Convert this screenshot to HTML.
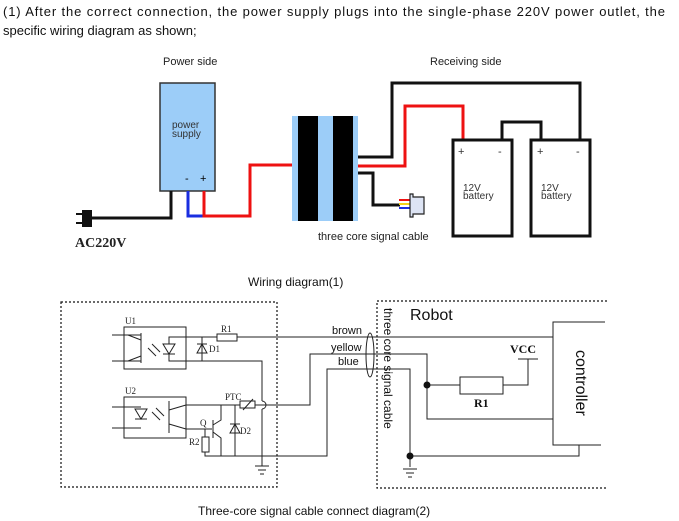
<!DOCTYPE html>
<html><head><meta charset="utf-8"><style>
html,body{margin:0;padding:0;background:#fff;width:679px;height:521px;overflow:hidden}
svg{display:block}
text{font-family:"Liberation Sans",Arial,sans-serif}
.s{font-family:"Liberation Serif",serif}
</style></head><body>
<svg width="679" height="521" viewBox="0 0 679 521" xmlns="http://www.w3.org/2000/svg">
<text x="3" y="16" font-size="13" fill="#111" textLength="662" lengthAdjust="spacing">(1) After the correct connection, the power supply plugs into the single-phase 220V power outlet, the</text>
<text x="3" y="35" font-size="13" fill="#111">specific wiring diagram as shown;</text>

<!-- wiring diagram 1 -->
<text x="163" y="65" font-size="11" fill="#222">Power side</text>
<text x="430" y="65" font-size="11" fill="#222">Receiving side</text>
<rect x="160" y="83" width="55" height="108" fill="#9ccdf8" stroke="#333" stroke-width="1.5"/>
<text x="172" y="128" font-size="10" fill="#333">power</text>
<text x="172" y="137" font-size="10" fill="#333">supply</text>
<text x="185" y="182" font-size="11" fill="#000">-</text>
<text x="200" y="182" font-size="11" fill="#000">+</text>
<polyline points="171,191 171,218 90,218" fill="none" stroke="#111" stroke-width="3"/>
<rect x="82" y="210" width="10" height="17" fill="#111"/>
<line x1="76" y1="214" x2="82" y2="214" stroke="#111" stroke-width="2"/>
<line x1="76" y1="223" x2="82" y2="223" stroke="#111" stroke-width="2"/>
<text x="75" y="247" font-size="14" font-weight="bold" class="s" fill="#222">AC220V</text>
<polyline points="188,191 188,216 204,216" fill="none" stroke="#1a2ee0" stroke-width="3"/>
<polyline points="204,191 204,216 250,216 250,165 292,165" fill="none" stroke="#ee1111" stroke-width="3"/>
<rect x="292" y="116" width="66" height="105" fill="#9ccdf8"/>
<rect x="298" y="116" width="20" height="105" fill="#000"/>
<rect x="333" y="116" width="20" height="105" fill="#000"/>
<text x="318" y="240" font-size="11" fill="#222">three core signal cable</text>
<polyline points="358,157 392,157 392,83 580,83 580,140" fill="none" stroke="#111" stroke-width="3"/>
<polyline points="358,166 405,166 405,106 463,106 463,140" fill="none" stroke="#ee1111" stroke-width="3"/>
<polyline points="358,173 373,173 373,205 400,205" fill="none" stroke="#111" stroke-width="3"/>
<line x1="399" y1="200" x2="411" y2="200" stroke="#e11" stroke-width="2"/>
<line x1="399" y1="204" x2="411" y2="204" stroke="#f2d21a" stroke-width="2"/>
<line x1="399" y1="208" x2="411" y2="208" stroke="#1a2ee0" stroke-width="2"/>
<path d="M410,194 h3 v3 h11 v17 h-11 v3 h-3 z" fill="#dde4f4" stroke="#222" stroke-width="1.2"/>
<rect x="453" y="140" width="59" height="96" fill="#fff" stroke="#111" stroke-width="3"/>
<rect x="531" y="140" width="59" height="96" fill="#fff" stroke="#111" stroke-width="3"/>
<polyline points="502,140 502,122 541,122 541,140" fill="none" stroke="#111" stroke-width="3"/>
<text x="458" y="155" font-size="11" fill="#333">+</text><text x="498" y="155" font-size="11" fill="#333">-</text>
<text x="537" y="155" font-size="11" fill="#333">+</text><text x="576" y="155" font-size="11" fill="#333">-</text>
<text x="463" y="191" font-size="10" fill="#333">12V</text><text x="463" y="199" font-size="10" fill="#333">battery</text>
<text x="541" y="191" font-size="10" fill="#333">12V</text><text x="541" y="199" font-size="10" fill="#333">battery</text>
<text x="248" y="286" font-size="12" fill="#111">Wiring diagram(1)</text>

<!-- diagram 2 -->
<g fill="none" stroke="#111" stroke-width="1.2" stroke-dasharray="2,2">
<rect x="61" y="302" width="216" height="185"/>
<path d="M607,301 H377 V488 H607"/>
</g>
<g fill="none" stroke="#222" stroke-width="1">
<rect x="124" y="327" width="62" height="42"/>
<rect x="124" y="397" width="62" height="41"/>
<line x1="112" y1="335" x2="141" y2="335"/><line x1="112" y1="361" x2="141" y2="361"/>
<line x1="141" y1="333" x2="141" y2="363"/><line x1="141" y1="340" x2="128" y2="335"/><line x1="141" y1="356" x2="128" y2="361"/>
<path d="M163,344 h12 l-6,10 z"/><line x1="163" y1="354" x2="175" y2="354"/>
<line x1="152" y1="344" x2="160" y2="352"/><line x1="148" y1="348" x2="156" y2="356"/>
<polyline points="169,344 169,337 386,337"/>
<polyline points="169,354 169,361 262,361 262,401"/>
<path d="M262,409 V466"/>
<path d="M262,401 a4,4 0 0 1 0,8"/>
<line x1="202" y1="337" x2="202" y2="361"/>
<path d="M197,353 h10 l-5,-9 z"/><line x1="197" y1="344" x2="207" y2="344"/>
<rect x="217" y="334" width="20" height="7" fill="#fff"/>
<line x1="112" y1="407" x2="141" y2="407"/><line x1="112" y1="428" x2="141" y2="428"/>
<path d="M135,409 h12 l-6,10 z"/><line x1="135" y1="419" x2="147" y2="419"/>
<line x1="152" y1="412" x2="160" y2="420"/><line x1="156" y1="408" x2="164" y2="416"/>
<line x1="169" y1="401" x2="169" y2="433"/><line x1="169" y1="410" x2="186" y2="405"/><line x1="169" y1="424" x2="186" y2="429"/>
<polyline points="186,405 240,405"/><polyline points="255,405 310,405 310,354 386,354"/>
<rect x="240" y="401" width="15" height="7" fill="#fff"/><line x1="243" y1="410" x2="253" y2="399"/>
<polyline points="186,429 212,429"/>
<line x1="213" y1="420" x2="213" y2="438"/>
<polyline points="213,425 221,420 221,405"/><polyline points="213,432 221,438 221,456"/>
<line x1="235" y1="405" x2="235" y2="456"/>
<path d="M230,433 h10 l-5,-9 z"/><line x1="230" y1="424" x2="240" y2="424"/>
<line x1="205" y1="429" x2="205" y2="437"/>
<rect x="202" y="437" width="7" height="15" fill="#fff"/>
<polyline points="205,452 205,456 327,456 327,369 386,369"/>
<line x1="255" y1="466" x2="269" y2="466"/><line x1="258" y1="470" x2="266" y2="470"/><line x1="260" y1="474" x2="264" y2="474"/>
<ellipse cx="370" cy="355" rx="4" ry="22"/>
<polyline points="386,337 553,337"/>
<polyline points="386,354 427,354 427,419 553,419"/>
<polyline points="427,385 460,385"/><rect x="460" y="377" width="43" height="17"/>
<polyline points="503,385 528,385 528,359"/><line x1="518" y1="359" x2="538" y2="359"/>
<polyline points="386,369 410,369 410,467"/>
<polyline points="410,456 579,456 579,445"/>
<line x1="403" y1="469" x2="417" y2="469"/><line x1="406" y1="473" x2="414" y2="473"/><line x1="408" y1="477" x2="412" y2="477"/>
<path d="M605,322 H553 V445 H601"/>
</g>
<circle cx="427" cy="385" r="3.5" fill="#111"/>
<circle cx="410" cy="456" r="3.5" fill="#111"/>
<g class="s" font-size="9" fill="#222">
<text x="125" y="324" class="s">U1</text><text x="125" y="394" class="s">U2</text>
<text x="221" y="332" class="s">R1</text><text x="209" y="352" class="s">D1</text>
<text x="225" y="400" class="s">PTC</text><text x="200" y="426" class="s">Q</text>
<text x="240" y="434" class="s">D2</text><text x="189" y="445" class="s">R2</text>
</g>
<text x="332" y="334" font-size="11" fill="#111">brown</text>
<text x="331" y="351" font-size="11" fill="#111">yellow</text>
<text x="338" y="365" font-size="11" fill="#111">blue</text>
<text x="410" y="320" font-size="16" fill="#111">Robot</text>
<text transform="translate(384,308) rotate(90)" font-size="12" fill="#111">three core signal cable</text>
<text x="510" y="353" font-size="12" font-weight="bold" class="s" fill="#111">VCC</text>
<text x="474" y="407" font-size="12" font-weight="bold" class="s" fill="#111">R1</text>
<text transform="translate(576,350) rotate(90)" font-size="16" fill="#111">controller</text>
<text x="198" y="515" font-size="12" fill="#111">Three-core signal cable connect diagram(2)</text>
</svg>
</body></html>
